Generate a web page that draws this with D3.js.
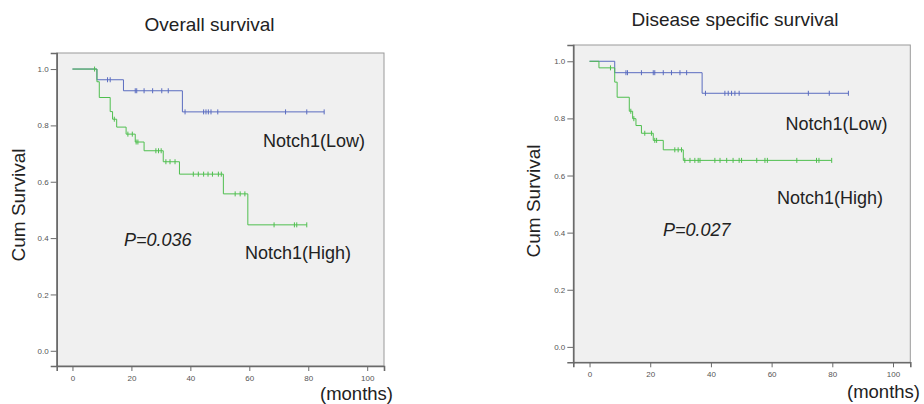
<!DOCTYPE html>
<html>
<head>
<meta charset="utf-8">
<script src="https://cdn.jsdelivr.net/npm/d3@7"></script>
<style>
  html, body { margin: 0; padding: 0; background: #fff; }
  svg { display: block; font-family: "Liberation Sans", Arial, sans-serif; }
</style>
</head>
<body>
<svg id="chart" width="924" height="404"></svg>
<script>
// Kaplan-Meier estimates by Notch1 expression (months of follow-up)
const xTicks = [0, 20, 40, 60, 80, 100];
const yTicks = [0.0, 0.2, 0.4, 0.6, 0.8, 1.0];

// Overall survival
const osLowTimes = [8.3, 17.3, 37.3];
const osLowSurv = [0.962, 0.923, 0.848];
const osLowCensored = [11.9, 12.8, 21.3, 21.8, 24.3, 27.2, 30.3, 32.5, 38.2, 44.5, 45.3, 46.1, 47.0, 49.3, 72.3, 79.5, 85.4];
const osLowLast = 85.4;

const osHighTimes = [8.3, 9.1, 12.8, 13.6, 15.0, 18.2, 21.3, 24.3, 30.8, 36.3, 51.2, 59.5];
const osHighSurv = [0.955, 0.899, 0.849, 0.822, 0.794, 0.769, 0.741, 0.710, 0.671, 0.627, 0.557, 0.447];
const osHighCensored = [7.5, 14.2, 18.8, 20.3, 21.6, 22.2, 28.3, 29.2, 30.1, 31.7, 33.1, 34.8, 41.0, 42.7, 44.5, 46.0, 47.5, 49.5, 50.5, 55.2, 56.9, 58.5, 68.4, 75.3, 76.1, 79.5];
const osHighLast = 79.5;

// Disease specific survival
const dssLowTimes = [8.3, 37.1];
const dssLowSurv = [0.960, 0.888];
const dssLowCensored = [12.0, 12.5, 17.1, 21.0, 21.5, 24.3, 27.0, 29.8, 32.0, 38.2, 44.6, 45.7, 46.8, 47.9, 49.3, 72.1, 79.0, 85.3];
const dssLowLast = 85.3;

const dssHighTimes = [3.1, 8.3, 9.1, 13.1, 14.2, 15.3, 17.1, 21.0, 24.3, 30.9];
const dssHighSurv = [0.977, 0.927, 0.874, 0.825, 0.799, 0.775, 0.748, 0.723, 0.690, 0.653];
const dssHighCensored = [6.9, 13.6, 14.6, 18.2, 20.4, 21.5, 22.1, 28.1, 29.2, 30.3, 31.4, 33.1, 34.7, 35.8, 36.4, 41.3, 43.0, 45.2, 47.3, 49.3, 50.1, 55.1, 57.8, 58.6, 68.3, 74.8, 75.6, 79.8];
const dssHighLast = 79.8;

const LOW_COLOR = "#5a6cc0";
const HIGH_COLOR = "#4fbf4f";

const svg = d3.select("#chart");

function curvePoints(times, surv, last) {
  const pts = [[0, 1]];
  times.forEach((t, i) => pts.push([t, surv[i]]));
  pts.push([last, surv[surv.length - 1]]);
  return pts;
}

function survAt(times, surv, t) {
  let s = 1;
  times.forEach((ti, i) => { if (ti <= t) s = surv[i]; });
  return s;
}

function drawPanel(cfg) {
  const g = svg.append("g");
  const x = d3.scaleLinear().domain([-5.35, 105.7]).range([cfg.x0, cfg.x1]);
  const y = d3.scaleLinear().domain([-0.054, 1.057]).range([cfg.y1, cfg.y0]);

  // plot frame
  g.append("rect")
    .attr("x", cfg.x0).attr("y", cfg.y0)
    .attr("width", cfg.x1 - cfg.x0).attr("height", cfg.y1 - cfg.y0)
    .attr("fill", "#f0f0f0").attr("stroke", "#9a9a9a").attr("stroke-width", 1);

  // axes
  const yAxis = d3.axisLeft(y).tickValues(yTicks).tickFormat(d3.format(".1f"))
    .tickSize(6).tickPadding(2);
  const xAxis = d3.axisBottom(x).tickValues(xTicks).tickFormat(d3.format("d"))
    .tickSize(5).tickPadding(4);

  const ya = g.append("g").attr("transform", `translate(${cfg.x0},0)`).call(yAxis);
  const xa = g.append("g").attr("transform", `translate(0,${cfg.y1})`).call(xAxis);
  [ya, xa].forEach(a => {
    a.select(".domain").attr("stroke", "#6a6a6a").attr("stroke-width", 1.6);
    a.selectAll(".tick line").attr("stroke", "#6a6a6a").attr("stroke-width", 1);
    a.selectAll(".tick text").attr("fill", "#555").style("font-size", "8px")
      .style("font-family", "'Liberation Sans', Arial, sans-serif");
  });

  const line = d3.line().x(d => x(d[0])).y(d => y(d[1])).curve(d3.curveStepAfter);
  const curves = g.append("g");

  cfg.series.forEach(s => {
    curves.append("path")
      .datum(curvePoints(s.times, s.surv, s.last))
      .attr("d", line)
      .attr("fill", "none").attr("stroke", s.color).attr("stroke-width", 1);
    curves.selectAll(null)
      .data(s.censored)
      .enter().append("line")
      .attr("x1", d => x(d)).attr("x2", d => x(d))
      .attr("y1", d => y(survAt(s.times, s.surv, d)) - 2.5)
      .attr("y2", d => y(survAt(s.times, s.surv, d)) + 2.5)
      .attr("stroke", s.color).attr("stroke-width", 1);
  });

  // titles and labels
  g.append("text").attr("x", cfg.titleX).attr("y", cfg.titleY)
    .attr("text-anchor", "middle").attr("fill", "#222")
    .style("font-size", "19px").text(cfg.title);

  g.append("text")
    .attr("transform", `translate(${cfg.yLabelX},${cfg.yLabelY}) rotate(-90)`)
    .attr("text-anchor", "middle").attr("fill", "#222")
    .style("font-size", "19px").text("Cum Survival");

  g.append("text").attr("x", cfg.unitX).attr("y", cfg.unitY)
    .attr("fill", "#222").style("font-size", "18.5px").text("(months)");

  cfg.labels.forEach(l => {
    g.append("text").attr("x", l.x).attr("y", l.y)
      .attr("fill", "#222").style("font-size", "18px")
      .style("font-style", l.italic ? "italic" : "normal")
      .text(l.text);
  });
}

drawPanel({
  x0: 56.7, x1: 384, y0: 53, y1: 366,
  title: "Overall survival", titleX: 209.5, titleY: 31,
  yLabelX: 25, yLabelY: 205,
  unitX: 320, unitY: 400,
  series: [
    { times: osLowTimes, surv: osLowSurv, censored: osLowCensored, last: osLowLast, color: LOW_COLOR },
    { times: osHighTimes, surv: osHighSurv, censored: osHighCensored, last: osHighLast, color: HIGH_COLOR }
  ],
  labels: [
    { text: "Notch1(Low)", x: 263, y: 147 },
    { text: "Notch1(High)", x: 245, y: 259 },
    { text: "P=0.036", x: 124, y: 245.5, italic: true }
  ]
});

drawPanel({
  x0: 573.3, x1: 910.3, y0: 45, y1: 362.3,
  title: "Disease specific survival", titleX: 735, titleY: 26,
  yLabelX: 540, yLabelY: 201,
  unitX: 847, unitY: 398,
  series: [
    { times: dssLowTimes, surv: dssLowSurv, censored: dssLowCensored, last: dssLowLast, color: LOW_COLOR },
    { times: dssHighTimes, surv: dssHighSurv, censored: dssHighCensored, last: dssHighLast, color: HIGH_COLOR }
  ],
  labels: [
    { text: "Notch1(Low)", x: 785.5, y: 129.5 },
    { text: "Notch1(High)", x: 777, y: 203.5 },
    { text: "P=0.027", x: 663, y: 236, italic: true }
  ]
});
</script>
</body>
</html>
